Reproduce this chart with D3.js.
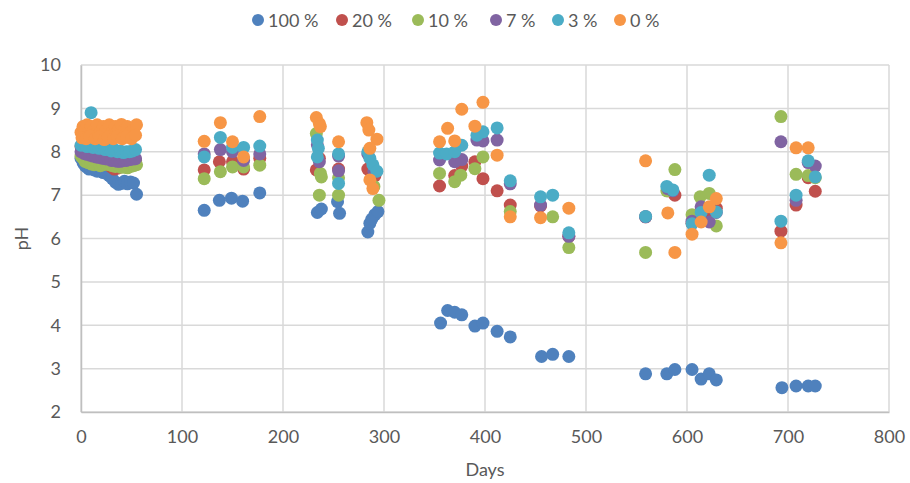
<!DOCTYPE html>
<html>
<head>
<meta charset="utf-8">
<script src="https://cdn.jsdelivr.net/npm/d3@7"></script>
<style>
  body { margin: 0; background: #fff; }
  text { font-family: Lato, "Open Sans", sans-serif; fill: #595959; }
</style>
</head>
<body>
<div id="chart"></div>
<script>
// series labels (legend order) and colours
var seriesNames = ["100 %", "20 %", "10 %", "7 %", "3 %", "0 %"];
var seriesColors = ["#4f81bd", "#c0504d", "#9bbb59", "#8064a2", "#4bacc6", "#f79646"];

var xTicks = [0, 100, 200, 300, 400, 500, 600, 700, 800];
var yTicks = [2, 3, 4, 5, 6, 7, 8, 9, 10];

// [days, pH]
var s100 = [[0,7.85],[2,7.75],[4,7.68],[6,7.64],[8,7.6],[10,7.62],[13,7.58],[16,7.55],[19,7.57],[22,7.52],[25,7.5],[28,7.45],[31,7.38],[34,7.3],[37,7.25],[40,7.27],[43,7.32],[46,7.26],[49,7.3],[52,7.28],[55,7.02],
  [122,6.65],[137,6.88],[149,6.93],[160,6.86],[177,7.05],
  [234,6.6],[238,6.68],[254,6.85],[256,6.58],
  [284,6.15],[286,6.35],[288,6.45],[291,6.55],[294,6.62],
  [356,4.05],[363,4.34],[370,4.3],[377,4.24],[390,3.98],[398,4.05],[412,3.86],[425,3.73],
  [456,3.28],[467,3.33],[483,3.28],
  [559,2.88],[580,2.88],[588,2.98],[605,2.98],[614,2.76],[622,2.88],[629,2.74],
  [694,2.56],[708,2.6],[720,2.6],[727,2.6]];

var s20 = [[0,8.12],[3,8.05],[6,8.0],[9,7.95],[12,7.9],[15,7.85],[18,7.8],[21,7.75],[24,7.72],[27,7.7],[30,7.65],[33,7.6],[36,7.62],[39,7.65],[42,7.7],[45,7.72],[48,7.75],[51,7.78],[54,7.8],
  [122,7.58],[137,7.77],[150,7.77],[161,7.6],[177,7.85],
  [233,7.58],[236,7.85],[255,7.6],
  [284,7.6],[287,7.35],[291,7.45],
  [355,7.21],[370,7.45],[377,7.67],[390,7.77],[398,7.38],[412,7.1],
  [425,6.77],[455,6.75],[483,6.05],
  [559,6.5],[581,7.1],[588,7.0],
  [605,6.35],[614,6.5],[622,6.6],[629,6.7],
  [693,6.17],[708,6.77],[720,7.4],[727,7.09]];

var s10 = [[0,7.9],[2,7.85],[4,7.78],[7,7.75],[10,7.72],[13,7.7],[16,7.72],[19,7.68],[22,7.7],[25,7.72],[28,7.7],[31,7.68],[34,7.66],[37,7.68],[40,7.64],[43,7.65],[46,7.63],[49,7.66],[52,7.68],[55,7.7],
  [122,7.38],[138,7.54],[150,7.65],[161,7.65],[177,7.69],
  [233,8.42],[237,7.5],[238,7.42],[236,7.0],
  [255,7.0],[255,7.4],
  [295,6.88],[290,7.2],
  [355,7.5],[370,7.31],[376,7.46],[390,7.61],[398,7.88],
  [425,6.62],[467,6.5],[483,5.79],
  [559,5.68],[580,7.1],[588,7.59],
  [605,6.55],[613,6.96],[622,7.04],[629,6.29],
  [693,8.81],[708,7.48],[720,7.45],[727,7.4]];

var s7 = [[0,8.0],[3,7.96],[6,7.94],[9,7.92],[12,7.9],[15,7.88],[18,7.87],[21,7.85],[24,7.84],[27,7.83],[30,7.8],[33,7.8],[36,7.78],[39,7.78],[42,7.8],[45,7.8],[48,7.82],[51,7.83],[54,7.84],
  [122,7.95],[138,8.05],[150,8.0],[161,7.8],[177,7.95],
  [234,8.16],[236,7.77],
  [255,7.56],[255,7.9],
  [284,7.95],[290,7.55],
  [355,7.81],[370,7.77],[377,7.82],[392,8.27],[398,8.25],[412,8.27],
  [425,7.26],[455,6.77],[483,6.05],
  [559,6.5],[581,7.15],[586,7.1],
  [605,6.4],[614,6.73],[622,6.38],[629,6.6],
  [693,8.23],[708,6.88],[720,7.75],[727,7.67]];

var s3 = [[0,8.15],[3,8.18],[6,8.12],[10,8.9],[12,8.1],[15,8.12],[18,8.08],[21,8.1],[24,8.05],[27,8.08],[30,8.02],[33,8.05],[36,8.0],[39,8.02],[42,7.98],[45,8.0],[48,8.0],[51,8.02],[54,8.05],
  [122,7.88],[138,8.33],[150,8.1],[161,8.1],[177,8.13],
  [234,8.27],[235,8.08],[234,7.88],
  [255,7.95],[255,7.27],
  [284,8.0],[286,7.85],[289,7.7],[293,7.55],
  [355,7.97],[362,7.95],[370,8.0],[377,8.15],[392,8.38],[398,8.46],[412,8.55],
  [425,7.33],[455,6.96],[467,7.0],[483,6.13],
  [559,6.51],[580,7.2],[586,7.12],
  [605,6.34],[614,6.6],[622,7.46],[629,6.61],
  [693,6.4],[708,7.0],[720,7.79],[727,7.42]];

var s0 = [[0,8.45],[2,8.58],[4,8.5],[6,8.62],[8,8.45],[10,8.58],[13,8.5],[16,8.62],[19,8.45],[22,8.58],[25,8.5],[28,8.62],[31,8.45],[34,8.58],[37,8.5],[40,8.63],[43,8.5],[46,8.58],[49,8.45],[52,8.5],[55,8.62],
  [1,8.32],[5,8.3],[9,8.36],[14,8.3],[18,8.34],[23,8.28],[27,8.34],[32,8.3],[36,8.36],[41,8.3],[45,8.35],[50,8.3],[54,8.38],
  [122,8.24],[138,8.67],[150,8.23],[161,7.88],[177,8.81],
  [233,8.79],[236,8.65],[237,8.58],
  [255,8.23],
  [283,8.67],[285,8.5],[293,8.29],[286,8.08],[286,7.35],[289,7.15],
  [355,8.23],[363,8.54],[370,8.25],[377,8.98],[390,8.59],[398,9.14],[412,7.92],
  [425,6.5],[455,6.48],[483,6.7],
  [559,7.79],[581,6.59],[588,5.68],
  [605,6.1],[614,6.38],[622,6.73],[629,6.92],
  [693,5.9],[708,8.09],[720,8.09]];

var seriesData = [s100, s20, s10, s7, s3, s0];

var margin = {top: 65, right: 21, bottom: 71, left: 81};
var width = 910 - margin.left - margin.right,
    height = 483 - margin.top - margin.bottom;

var svg = d3.select("#chart")
            .append("svg")
            .attr("width", 910)
            .attr("height", 483);

var g = svg.append("g")
           .attr("transform", "translate(" + margin.left + "," + margin.top + ")");

var x = d3.scaleLinear().domain([0, 800]).range([0, width]);
var y = d3.scaleLinear().domain([2, 10]).range([height, 0]);

// gridlines
g.append("g")
 .selectAll("line")
 .data(yTicks)
 .enter()
 .append("line")
 .attr("x1", 0).attr("x2", width)
 .attr("y1", function(d) { return y(d); })
 .attr("y2", function(d) { return y(d); })
 .attr("stroke", "#d9d9d9")
 .attr("stroke-width", 1.5);

g.append("g")
 .selectAll("line")
 .data(xTicks)
 .enter()
 .append("line")
 .attr("y1", 0).attr("y2", height)
 .attr("x1", function(d) { return x(d); })
 .attr("x2", function(d) { return x(d); })
 .attr("stroke", "#d9d9d9")
 .attr("stroke-width", 1.5);

// axes
var xAxis = d3.axisBottom(x).tickValues(xTicks).tickSize(0).tickPadding(18);
var yAxis = d3.axisLeft(y).tickValues(yTicks).tickSize(0).tickPadding(20);

var gx = g.append("g").attr("transform", "translate(0," + height + ")").call(xAxis);
var gy = g.append("g").call(yAxis);
[gx, gy].forEach(function(a) {
	a.select(".domain").attr("stroke", "#bfbfbf").attr("stroke-width", 1.5);
	a.selectAll("text").style("font-size", "18px").style("fill", "#595959");
});

// points, blue first so orange ends up on top
seriesData.forEach(function(pts, i) {
	g.append("g")
	 .selectAll("circle")
	 .data(pts)
	 .enter()
	 .append("circle")
	 .attr("cx", function(d) { return x(d[0]); })
	 .attr("cy", function(d) { return y(d[1]); })
	 .attr("r", 6.5)
	 .attr("fill", seriesColors[i]);
});

// axis titles
svg.append("text")
   .attr("x", margin.left + width / 2)
   .attr("y", 476)
   .attr("text-anchor", "middle")
   .style("font-size", "18px")
   .text("Days");

svg.append("text")
   .attr("transform", "translate(28," + (margin.top + height / 2) + ") rotate(-90)")
   .attr("text-anchor", "middle")
   .style("font-size", "18px")
   .text("pH");

// legend
var legendX = [258, 342, 418, 496, 558, 620];
var legend = svg.append("g");
seriesNames.forEach(function(name, i) {
	legend.append("circle")
	      .attr("cx", legendX[i])
	      .attr("cy", 20)
	      .attr("r", 6)
	      .attr("fill", seriesColors[i]);
	legend.append("text")
	      .attr("x", legendX[i] + 10)
	      .attr("y", 26.5)
	      .style("font-size", "18px")
	      .text(name);
});
</script>
</body>
</html>
